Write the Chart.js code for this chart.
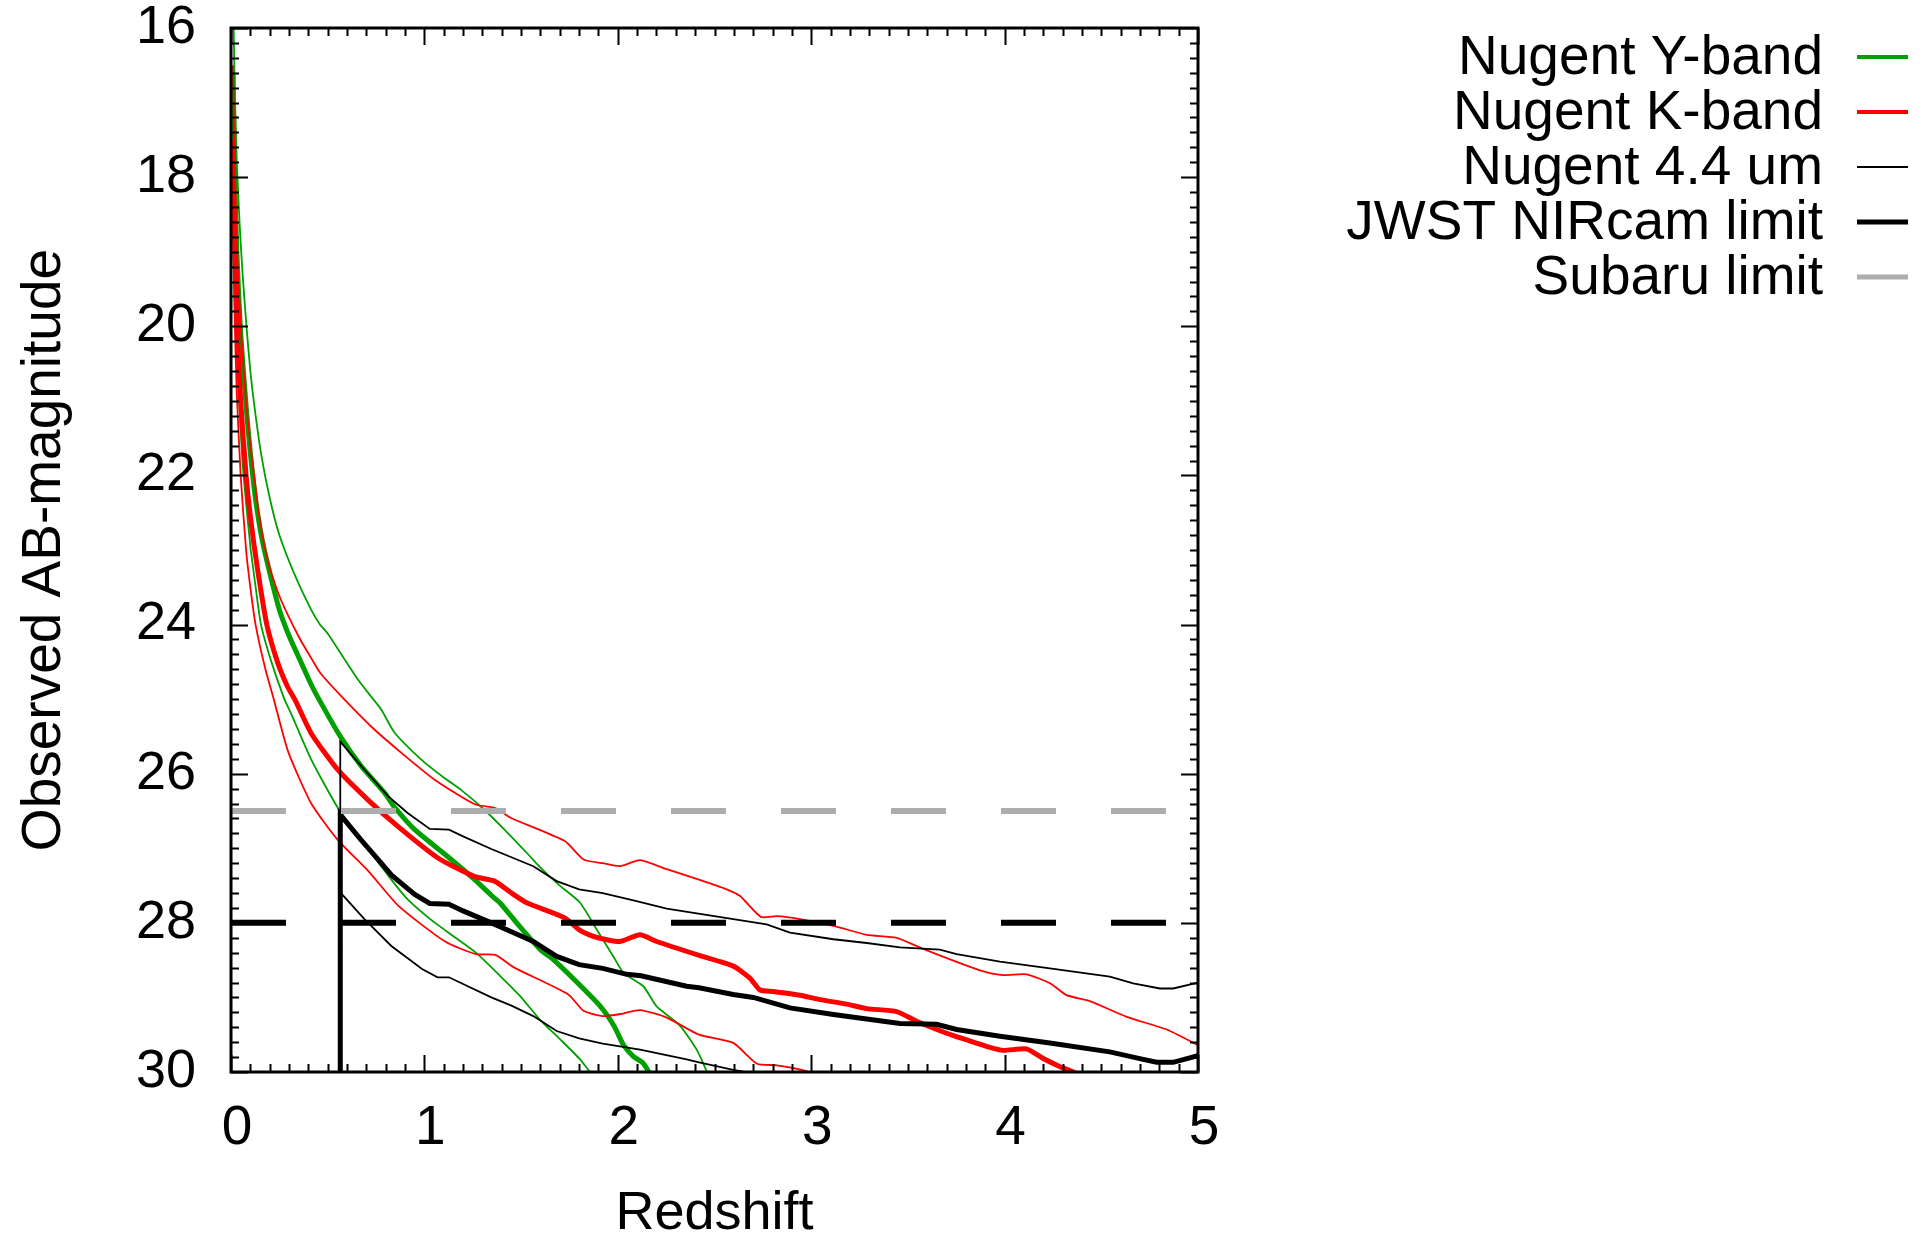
<!DOCTYPE html>
<html>
<head>
<meta charset="utf-8">
<title>Observed AB-magnitude vs redshift</title>
<script src="https://cdn.jsdelivr.net/npm/chart.js@4.4.1/dist/chart.umd.min.js"></script>
<style>
  html, body { margin: 0; padding: 0; background: #fff; }
  #wrap { width: 1924px; height: 1234px; }
</style>
</head>
<body>
<div id="wrap"><canvas id="mag-chart" width="1924" height="1234"></canvas></div>
<script>
// axis ranges and tick steps
const zMin = 0, zMax = 5, zStep = 1, zMinorStep = 0.1;
const magMin = 16, magMax = 30, magStep = 2, magMinorStep = 0.2;

// detection limits (AB mag)
const jwstLimit = 28;
const subaruLimit = 26.5;

// Nugent Y-band : [redshift, magnitude]
const yBandMid = [[0.01,16.6],[0.02,18.1],[0.03,19.0],[0.05,20.1],[0.079,21.1],[0.1,21.7],[0.126,22.3],[0.16,22.85],[0.2,23.3],[0.25,23.8],[0.3,24.15],[0.34,24.38],[0.41,24.78],[0.45,24.98],[0.565,25.5],[0.674,25.9],[0.795,26.26],[0.846,26.45],[0.95,26.75],[1.12,27.11],[1.26,27.42],[1.35,27.64],[1.39,27.73],[1.49,28.04],[1.6,28.36],[1.67,28.5],[1.79,28.8],[1.91,29.12],[1.98,29.38],[2.03,29.64],[2.08,29.79],[2.13,29.88],[2.16,30.0],[2.2,30.2]];
const yBandBright = [[0.01,15.4],[0.02,16.9],[0.03,17.8],[0.045,18.65],[0.06,19.3],[0.08,20.0],[0.1,20.6],[0.12,21.05],[0.155,21.7],[0.2,22.3],[0.25,22.8],[0.324,23.3],[0.41,23.78],[0.46,24.0],[0.5,24.12],[0.583,24.45],[0.657,24.74],[0.735,25.0],[0.777,25.14],[0.846,25.45],[0.984,25.81],[1.1,26.05],[1.191,26.22],[1.3,26.46],[1.41,26.74],[1.536,27.08],[1.6,27.26],[1.7,27.5],[1.805,27.73],[1.891,28.09],[1.977,28.45],[2.029,28.67],[2.132,28.85],[2.201,29.12],[2.322,29.38],[2.408,29.7],[2.46,29.99],[2.5,30.2]];
const yBandFaint = [[0.01,17.9],[0.02,19.4],[0.03,20.3],[0.05,21.4],[0.065,22.0],[0.1,22.95],[0.125,23.45],[0.155,24.0],[0.209,24.5],[0.276,25.0],[0.312,25.2],[0.415,25.81],[0.553,26.46],[0.674,26.89],[0.829,27.42],[0.915,27.69],[1.03,27.95],[1.15,28.18],[1.266,28.4],[1.391,28.71],[1.494,28.98],[1.598,29.3],[1.701,29.56],[1.805,29.83],[1.856,30.0],[1.9,30.12]];

// Nugent K-band
const kBandMid = [[0.01,17.5],[0.02,19.0],[0.03,19.9],[0.05,21.0],[0.078,22.0],[0.1,22.55],[0.134,23.2],[0.185,24.0],[0.24,24.5],[0.29,24.82],[0.333,25.02],[0.415,25.46],[0.553,25.95],[0.708,26.35],[0.869,26.72],[1.07,27.13],[1.26,27.38],[1.363,27.44],[1.445,27.59],[1.529,27.73],[1.724,27.93],[1.805,28.1],[1.874,28.18],[1.95,28.23],[2.012,28.25],[2.115,28.16],[2.201,28.25],[2.425,28.44],[2.597,28.58],[2.683,28.74],[2.735,28.9],[2.804,28.92],[2.942,28.97],[3.046,29.03],[3.184,29.09],[3.287,29.15],[3.442,29.19],[3.545,29.32],[3.7,29.48],[3.804,29.57],[3.924,29.67],[3.993,29.71],[4.113,29.69],[4.2,29.82],[4.287,29.93],[4.355,30.0],[4.4,30.1]];
const kBandBright = [[0.01,16.5],[0.02,18.0],[0.03,18.9],[0.05,20.0],[0.078,21.0],[0.1,21.6],[0.12,22.0],[0.143,22.5],[0.186,23.1],[0.24,23.55],[0.29,23.85],[0.358,24.2],[0.415,24.45],[0.462,24.65],[0.57,24.96],[0.726,25.37],[0.881,25.72],[1.053,26.08],[1.26,26.41],[1.366,26.46],[1.445,26.59],[1.724,26.9],[1.823,27.15],[1.922,27.2],[2.012,27.24],[2.115,27.16],[2.253,27.28],[2.42,27.42],[2.563,27.55],[2.632,27.64],[2.74,27.92],[2.822,27.91],[2.942,27.95],[3.115,28.04],[3.287,28.16],[3.442,28.2],[3.579,28.35],[3.769,28.54],[3.89,28.65],[3.993,28.7],[4.113,28.69],[4.235,28.81],[4.32,28.97],[4.441,29.05],[4.631,29.26],[4.838,29.43],[5.0,29.64]];
const kBandFaint = [[0.01,18.5],[0.02,20.0],[0.03,20.9],[0.05,22.0],[0.078,23.0],[0.1,23.5],[0.127,24.0],[0.178,24.6],[0.221,25.0],[0.295,25.7],[0.415,26.4],[0.553,26.89],[0.708,27.3],[0.869,27.78],[1.107,28.25],[1.266,28.42],[1.366,28.43],[1.465,28.6],[1.744,28.96],[1.823,29.18],[1.922,29.25],[2.02,29.22],[2.115,29.17],[2.253,29.27],[2.42,29.5],[2.597,29.61],[2.72,29.89],[2.822,29.91],[2.977,29.99],[3.05,30.1]];

// Nugent 4.4 um (no coverage below z ~ 0.565, first point is off the bottom)
const irMid = [[0.565,31],[0.565,26.55],[0.67,26.88],[0.75,27.12],[0.83,27.36],[0.95,27.62],[1.028,27.74],[1.127,27.75],[1.2,27.84],[1.346,28.0],[1.45,28.12],[1.563,28.25],[1.684,28.45],[1.8,28.56],[1.922,28.61],[2.046,28.69],[2.12,28.71],[2.356,28.85],[2.42,28.87],[2.597,28.96],[2.701,29.0],[2.89,29.14],[3.115,29.23],[3.373,29.32],[3.459,29.35],[3.648,29.36],[3.752,29.43],[3.976,29.52],[4.234,29.61],[4.544,29.73],[4.699,29.82],[4.786,29.87],[4.872,29.87],[5.0,29.78]];
const irBright = [[0.565,31],[0.565,25.57],[0.674,25.9],[0.812,26.3],[0.915,26.53],[1.028,26.74],[1.127,26.75],[1.2,26.84],[1.346,27.01],[1.45,27.12],[1.563,27.24],[1.684,27.44],[1.8,27.55],[1.922,27.6],[2.081,27.7],[2.253,27.81],[2.425,27.88],[2.597,27.95],[2.77,28.02],[2.89,28.13],[3.115,28.22],[3.287,28.27],[3.459,28.33],[3.665,28.36],[3.752,28.42],[3.976,28.52],[4.234,28.61],[4.544,28.72],[4.665,28.81],[4.803,28.88],[4.872,28.88],[5.0,28.8]];
const irFaint = [[0.565,31],[0.565,27.59],[0.69,27.95],[0.829,28.31],[0.988,28.62],[1.068,28.73],[1.127,28.73],[1.2,28.82],[1.346,29.0],[1.45,29.11],[1.563,29.25],[1.684,29.45],[1.8,29.55],[1.922,29.62],[2.115,29.7],[2.356,29.83],[2.42,29.87],[2.597,29.97],[2.66,30.0],[2.8,30.06]];

const GREEN = '#00a000', RED = '#ff0000', BLACK = '#000000', GREY = '#adadad';
const THICK = 5, THIN = 1.8, LIMIT_W = 6;
const FONT = '"Liberation Sans", Arial, Helvetica, sans-serif';

function curve(label, pts, color, width, order, tension) {
  return {
    label: label,
    data: pts.map(p => ({ x: p[0], y: p[1] })),
    borderColor: color,
    backgroundColor: color,
    borderWidth: width,
    pointRadius: 0,
    showLine: true,
    fill: false,
    tension: tension,
    order: order
  };
}

function limitLine(label, mag, color, order) {
  const ds = curve(label, [[zMin, mag], [zMax, mag]], color, LIMIT_W, order, 0);
  ds.borderDash = [55, 55];
  return ds;
}

// legend on the right, text right-aligned then a line sample
const legendItems = [
  { text: 'Nugent Y-band', color: GREEN, width: 4 },
  { text: 'Nugent K-band', color: RED, width: 4 },
  { text: 'Nugent 4.4 um', color: BLACK, width: 2 },
  { text: 'JWST NIRcam limit', color: BLACK, width: 5 },
  { text: 'Subaru limit', color: GREY, width: 5 }
];

const sideLegend = {
  id: 'sideLegend',
  afterDraw(chart) {
    const ctx = chart.ctx;
    ctx.save();
    ctx.font = '55px ' + FONT;
    ctx.fillStyle = '#000';
    ctx.textAlign = 'right';
    ctx.textBaseline = 'middle';
    legendItems.forEach((item, i) => {
      const yy = 59 + i * 55;
      ctx.fillText(item.text, 1823, yy);
      ctx.strokeStyle = item.color;
      ctx.lineWidth = item.width;
      ctx.beginPath();
      ctx.moveTo(1857, yy - 2);
      ctx.lineTo(1908, yy - 2);
      ctx.stroke();
    });
    ctx.restore();
  }
};

// gnuplot style frame with inward ticks on all four sides
const frameTicks = {
  id: 'frameTicks',
  afterDatasetsDraw(chart) {
    const { ctx, chartArea: a, scales: { x, y } } = chart;
    ctx.save();
    ctx.strokeStyle = '#000';
    ctx.lineWidth = 2;
    ctx.beginPath();
    const nx = Math.round((zMax - zMin) / zMinorStep);
    for (let i = 0; i <= nx; i++) {
      const v = zMin + i * zMinorStep;
      const px = Math.round(x.getPixelForValue(v)) + 0.5;
      const len = (i % Math.round(zStep / zMinorStep) === 0) ? 17 : 8;
      ctx.moveTo(px, a.bottom); ctx.lineTo(px, a.bottom - len);
      ctx.moveTo(px, a.top); ctx.lineTo(px, a.top + len);
    }
    const ny = Math.round((magMax - magMin) / magMinorStep);
    for (let i = 0; i <= ny; i++) {
      const v = magMin + i * magMinorStep;
      const py = Math.round(y.getPixelForValue(v)) + 0.5;
      const len = (i % Math.round(magStep / magMinorStep) === 0) ? 17 : 8;
      ctx.moveTo(a.left, py); ctx.lineTo(a.left + len, py);
      ctx.moveTo(a.right, py); ctx.lineTo(a.right - len, py);
    }
    ctx.stroke();
    ctx.lineWidth = 3;
    ctx.strokeRect(a.left, a.top, a.right - a.left, a.bottom - a.top);
    ctx.restore();
  }
};

const datasets = [
  limitLine('Subaru limit', subaruLimit, GREY, 0),
  limitLine('JWST NIRcam limit', jwstLimit, BLACK, 1),
  curve('Nugent 4.4 um', irMid, BLACK, THICK, 2, 0),
  curve('4.4 um bright', irBright, BLACK, THIN, 2, 0),
  curve('4.4 um faint', irFaint, BLACK, THIN, 2, 0),
  curve('Nugent K-band', kBandMid, RED, THICK, 3, 0.2),
  curve('K-band bright', kBandBright, RED, THIN, 3, 0.2),
  curve('K-band faint', kBandFaint, RED, THIN, 3, 0.2),
  curve('Nugent Y-band', yBandMid, GREEN, THICK, 4, 0.2),
  curve('Y-band bright', yBandBright, GREEN, THIN, 4, 0.2),
  curve('Y-band faint', yBandFaint, GREEN, THIN, 4, 0.2)
];

new Chart(document.getElementById('mag-chart').getContext('2d'), {
  type: 'scatter',
  data: { datasets: datasets },
  options: {
    responsive: false,
    animation: false,
    devicePixelRatio: 1,
    layout: { padding: { left: 0, top: 28, right: 726, bottom: 0 } },
    plugins: {
      legend: { display: false },
      tooltip: { enabled: false }
    },
    scales: {
      x: {
        type: 'linear',
        min: zMin,
        max: zMax,
        grid: { display: false, drawTicks: false },
        border: { display: false },
        ticks: {
          stepSize: zStep,
          autoSkip: false,
          maxRotation: 0,
          padding: 29,
          labelOffset: 6,
          color: '#000',
          font: { family: FONT, size: 55, lineHeight: 1 }
        },
        title: {
          display: true,
          text: 'Redshift',
          color: '#000',
          font: { family: FONT, size: 54, lineHeight: 0.75 },
          padding: { top: 0, bottom: 0 }
        },
        afterFit(scale) { scale.height = 162; }
      },
      y: {
        type: 'linear',
        reverse: true,
        min: magMin,
        max: magMax,
        grid: { display: false, drawTicks: false },
        border: { display: false },
        ticks: {
          stepSize: magStep,
          padding: 35,
          color: '#000',
          font: { family: FONT, size: 54, lineHeight: 1 }
        },
        title: {
          display: true,
          text: 'Observed AB-magnitude',
          color: '#000',
          font: { family: FONT, size: 55, lineHeight: 1.2 },
          padding: { top: 12, bottom: 0 }
        },
        afterFit(scale) {
          scale.width = 231;
          // keep the tick-label overhang from pushing the plot area down
          scale.paddingTop = 0;
          scale.paddingBottom = 0;
        }
      }
    }
  },
  plugins: [frameTicks, sideLegend]
});
</script>
</body>
</html>
